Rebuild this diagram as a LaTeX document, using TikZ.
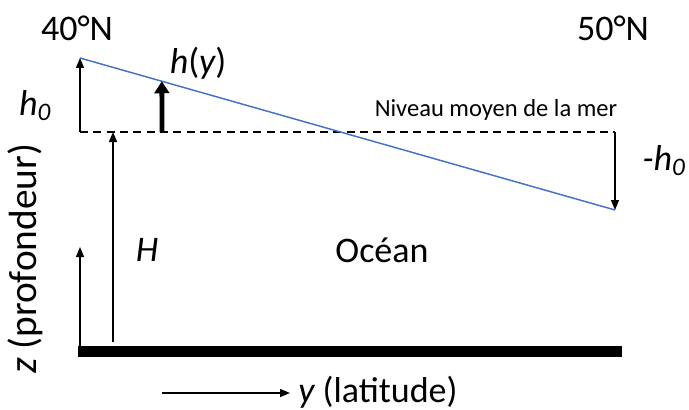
\documentclass[tikz,border=0pt]{standalone}
\usepackage{fontspec}
\setmainfont{Carlito}
\usetikzlibrary{positioning,calc}
\usetikzlibrary{arrows.meta}
\definecolor{SurfBlue}{RGB}{68,114,196}

\tikzset{
  bigtxt/.style={font=\fontsize{27}{32}\selectfont,inner sep=0pt},
  smalltxt/.style={font=\fontsize{18.4}{22}\selectfont,inner sep=0pt},
  thinarrow/.style={line width=1pt,-{Triangle[length=7.5pt,width=6pt]}},
  fatarrow/.style={line width=3.6pt,-{Triangle[length=9pt,width=11pt]}},
}

\begin{document}
\begin{tikzpicture}[x=0.75pt,y=-0.75pt]
				\useasboundingbox (0,0) rectangle (689,410);
				\coordinate (n40) at (80,58);
				\coordinate (s50) at (615,210);
				\coordinate (m40) at (80,132);
				\coordinate (m50) at (615,132);
				\coordinate (hbase) at (162,132);
				\coordinate (htop) at ($(n40)!0.153!(s50)$);
				\coordinate (Hbot) at (113,342);
				\coordinate (Htop) at (113,132);
				\coordinate (zbot) at (80,346);
				\coordinate (ztop) at (80,247);
				\coordinate (yleft) at (162,393);
				\coordinate (yright) at (290,393);
				\coordinate (bedW) at (78,351.5);
				\coordinate (bedE) at (622,351.5);
				
				\draw[line width=1pt,dash pattern=on 6pt off 4pt] (m40)--(m50);
				\draw[SurfBlue,line width=1.1pt] (n40)--(s50);
				\draw[thinarrow] (m40)--(n40);
				\draw[thinarrow] (m50)--(s50);
				\draw[thinarrow] (Hbot)--(Htop);
				\draw[fatarrow] (hbase)--(htop);
				\draw[thinarrow] (zbot)--(ztop);
				\draw[thinarrow] (yleft)--(yright);
				\draw[line width=8.25pt] (bedW)--(bedE);
				
				\node[bigtxt] (lat40) at (77,28) {40°N};
				\node[bigtxt] (lat50) at (613,28) {50°N};
				\node[bigtxt] (hy) at (198,63) {\itshape h\upshape(\itshape y\upshape)};
				\node[bigtxt] (hzero) at (35,106) {\itshape h\textsubscript{0}};
				\node[bigtxt] (mhzero) at (664,161) {\itshape -h\textsubscript{0}};
				\node[smalltxt] (niveau) at (496,110) {Niveau moyen de la mer};
				\node[bigtxt] (Hlab) at (147,250) {\itshape H};
				\node[bigtxt] (ocean) at (382,250) {Océan};
				\node[bigtxt,font=\fontsize{29.5}{34}\selectfont,rotate=90] (zlab) at (25,259) {{\itshape z} (profondeur)};
				\node[bigtxt] (ylab) at (378,392) {{\itshape y} (latitude)};
			\end{tikzpicture}
\end{document}
